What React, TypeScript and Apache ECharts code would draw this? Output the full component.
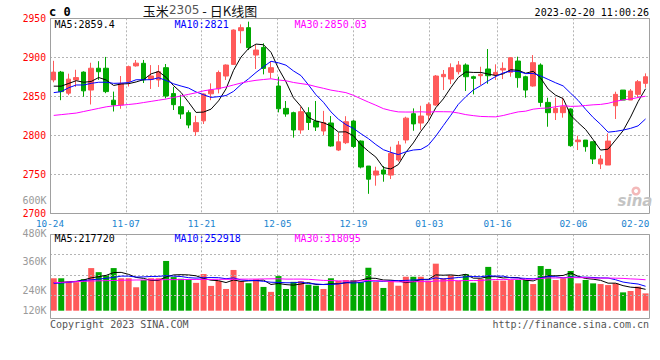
import React, { useEffect, useRef } from 'react';
import * as echarts from 'echarts';

const dates = [
  '10-24','10-25','10-26','10-27','10-28','10-31','11-01','11-02','11-03','11-04',
  '11-07','11-08','11-09','11-10','11-11','11-14','11-15','11-16','11-17','11-18',
  '11-21','11-22','11-23','11-24','11-25','11-28','11-29','11-30','12-01','12-02',
  '12-05','12-06','12-07','12-08','12-09','12-12','12-13','12-14','12-15','12-16',
  '12-19','12-20','12-21','12-22','12-23','12-26','12-27','12-28','12-29','12-30',
  '01-03','01-04','01-05','01-06','01-09','01-10','01-11','01-12','01-13',
  '01-16','01-17','01-18','01-19','01-20','01-30','01-31','02-01','02-02','02-03',
  '02-06','02-07','02-08','02-09','02-10','02-13','02-14','02-15','02-16','02-17','02-20',
];
const labelDates = ['10-24','11-07','11-21','12-05','12-19','01-03','01-16','02-06','02-20'];

const open = [2871,2881,2854,2871,2881,2858,2886,2886,2845,2839,
  2869,2889,2892.3,2871.8,2871,2886.7,2853.5,2836.7,2829,2804.7,
  2818.5,2853.2,2859.5,2876,2890.9,2934.1,2938,2902.9,2912.7,2880.7,
  2863.2,2834.5,2829,2806.8,2829,2818,2805.5,2815.8,2781.1,2790.5,
  2818.3,2792.6,2760.6,2749,2755.5,2749,2768.3,2794,2827.7,2815.7,
  2826,2838.8,2875.1,2872.1,2881.5,2890.1,2875.1,2876.4,2885,2877.3,
  2883.7,2880.7,2895.2,2875.1,2863.2,2890.1,2842.2,2829,2829,2833.7,
  2791.8,2793.9,2791.8,2763.2,2761.9,2837.9,2858,2845.2,2852.5,2866.6];
const close = [2881,2856,2872,2874,2857,2886,2881.5,2856,2839,2866.5,
  2888,2892.5,2871,2876,2881.5,2850.4,2839.3,2827.3,2813.2,2816.2,
  2853,2858,2880.5,2890.1,2935,2938,2912.3,2909.3,2885.8,2886.7,
  2834,2827.3,2806.8,2830.3,2816.4,2810.6,2816.4,2786.3,2791.6,2817.4,
  2785.6,2759.3,2743.7,2754.2,2750.3,2776.8,2787.5,2822,2814.6,2824.7,
  2839.7,2876,2878.1,2886.7,2890.1,2875.1,2873,2878.1,2876.4,2880.7,
  2885.8,2899.5,2873.9,2858,2893.1,2842.2,2829,2834.5,2836.7,2786.7,
  2793.9,2785.4,2769.6,2769.6,2792.6,2852.5,2845.2,2856.8,2868.7,2875.1];
const low = [2868,2845,2851.5,2862,2849.5,2839.5,2871,2854,2830.5,2834,
  2862.5,2888,2867,2859.4,2862,2847.4,2832.4,2821,2809,2799.3,
  2814.5,2845,2853.8,2870.9,2890.1,2917.9,2909.3,2885,2878.1,2873,
  2829.4,2823.8,2797,2802,2806.8,2805.5,2800.3,2785.4,2779.8,2788.8,
  2783.7,2757.6,2725,2735.4,2740.5,2743.9,2766.1,2789.6,2805.8,2807,
  2820,2837.9,2858,2865.7,2878.1,2856.8,2852.5,2864.4,2866,2871,
  2872.1,2875.1,2861,2848.2,2862.3,2836.7,2811,2819.6,2822.6,2785.4,
  2781.1,2779,2763.2,2756.7,2761.9,2820.9,2845.2,2845.2,2848.2,2861];
const high = [2895.5,2882.5,2879,2884,2882,2893,2895,2900.5,2856,2876,
  2889.3,2896.5,2896.6,2890,2890,2891.4,2862,2852,2832,2825,
  2853.8,2866.6,2883,2890.9,2935.8,2942.2,2945.7,2915.7,2917.9,2894.4,
  2875.1,2844,2830.3,2836.7,2836,2844,2831.3,2824.7,2803.5,2824.5,
  2819.4,2793.5,2760.6,2759.7,2760.6,2785.4,2792.6,2823.8,2834.5,2837.9,
  2842.2,2877.3,2883.7,2892.2,2895.2,2892.2,2876.4,2887.9,2910.6,2891,
  2893.5,2900,2900.8,2876.4,2902.9,2892.2,2848.2,2848.2,2848.2,2834.5,
  2799.5,2793.9,2791.8,2774.7,2802.5,2855.9,2858,2859.3,2870.9,2879.4];

const volume = [221000,221000,201000,198000,216000,281000,257000,239000,281000,221000,
  221000,168000,211000,221000,221000,323000,228000,218000,214000,194000,
  246000,176000,205000,158000,270000,204000,192000,215000,170000,141000,
  234000,158000,200000,204000,183000,177000,158000,221000,206000,211000,
  211000,198000,283000,199000,164000,205000,177000,230000,230000,230000,
  207000,307000,221000,240000,207000,246000,195000,217000,288000,207000,
  207000,211000,211000,211000,187000,293000,276000,211000,221000,264000,
  191000,211000,191000,187000,181000,191000,138000,146000,172000,132000];

// moving-average values before enough bars are visible
const ma5Lead = [2863, 2863, 2866.5, 2870];
const ma10Lead = [2854.7, 2856, 2861, 2864.5, 2864.5, 2866.6, 2868, 2868, 2866.6];
const ma30Lead = [2825.5, 2826.5, 2827.5, 2828.5, 2830.5, 2832.5, 2834.5, 2836.5, 2837.8, 2838.5,
  2839.5, 2840.5, 2842, 2843.5, 2845, 2846.5, 2848.5, 2850.5, 2852.5, 2854.5,
  2857, 2858.5, 2860, 2862, 2864.5, 2867, 2869, 2870.5, 2871.5];
const volMa5Lead = [195000, 197000, 200000, 203000];
const volMa10Lead = [191000, 193000, 197000, 202000, 207000, 212000, 216000, 221000, 226000];
const volMa30Lead = [195000, 197000, 199000, 201000, 203000, 205000, 206000, 207000, 208000, 209000,
  210000, 211000, 211000, 212000, 212000, 213000, 213000, 213000, 214000, 214000,
  214000, 214000, 215000, 215000, 215000, 216000, 216000, 216000, 217000];

const priceTicks = [2700, 2750, 2800, 2850, 2900, 2950];
const volTickLabels = ['600K', '480K', '360K', '240K', '120K'];
const volGridValues = [120000, 240000, 360000];

const titleName = '玉米';
const titleCode = '2305';
const titleRest = ' - 日K线图';
const codeText = 'c 0';
const timeText = '2023-02-20 11:00:26';
const priceMaTexts = ['MA5:2859.4', 'MA10:2821', 'MA30:2850.03'];
const volMaTexts = ['MA5:217720', 'MA10:252918', 'MA30:318095'];
const footLeft = 'Copyright 2023 SINA.COM';
const footRight = 'http://finance.sina.com.cn';

const movingAvg = (vals: number[], n: number, lead: number[]) =>
  vals.map((_, i) => {
    if (i < n - 1) return lead[i];
    let s = 0;
    for (let j = i - n + 1; j <= i; j++) s += vals[j];
    return +(s / n).toFixed(2);
  });

const UP = '#ff5a5a';
const DOWN = '#00a800';
const GRIDC = '#b4b4b4';
const MONO = '"DejaVu Sans Mono", "Liberation Mono", monospace';

export default function App() {
  const ref = useRef<HTMLDivElement>(null);
  useEffect(() => {
    if (!ref.current) return;
    const chart = echarts.init(ref.current, undefined, { renderer: 'svg' });

    const candles = dates.map((_, i) => [open[i], close[i], low[i], high[i]]);
    const ma5 = movingAvg(close, 5, ma5Lead);
    const ma10 = movingAvg(close, 10, ma10Lead);
    const ma30 = movingAvg(close, 30, ma30Lead);
    const vma5 = movingAvg(volume, 5, volMa5Lead);
    const vma10 = movingAvg(volume, 10, volMa10Lead);
    const vma30 = movingAvg(volume, 30, volMa30Lead);
    const volData = volume.map((v, i) => ({
      value: v,
      itemStyle: { color: close[i] >= open[i] ? UP : DOWN },
    }));

    const showDate = (_i: number, v: string) => labelDates.includes(v);
    const maColors = ['#000000', '#0000ff', '#ff00ff'];
    const maX = [54.5, 174.5, 294.5];
    const volLabelY = [200, 233.5, 261, 290, 310.5];

    const txt = (text: string, x: number, y: number, fill: string, font: string, align = 'left', lh = 10) => ({
      type: 'text', x, y, silent: true, z: 100,
      style: { text, fill, font, textAlign: align, textVerticalAlign: 'middle', lineHeight: lh },
    });

    const graphic: any[] = [
      {
        type: 'rect', silent: true, z: 90,
        shape: { x: 50.5, y: 18.5, width: 599, height: 195 },
        style: { fill: 'none', stroke: '#a0a0a0', lineWidth: 1 },
      },
      {
        type: 'rect', silent: true, z: 90,
        shape: { x: 50.5, y: 234.5, width: 599, height: 84 },
        style: { fill: 'none', stroke: '#a0a0a0', lineWidth: 1 },
      },
      txt(codeText, 49, 12, '#000', 'bold 12px ' + MONO, 'left', 12),
      {
        type: 'text', x: 200, y: 10, silent: true, z: 100,
        style: {
          text: `{a|${titleName}}{b|${titleCode}}{a|${titleRest}}`,
          textAlign: 'center', textVerticalAlign: 'middle',
          rich: {
            a: { fontFamily: '"Noto Sans CJK SC", sans-serif', fontSize: 13, fill: '#111', color: '#111' },
            b: { fontFamily: '"DejaVu Sans", sans-serif', fontSize: 12, fill: '#555', color: '#555' },
          },
        },
      },
      txt(timeText, 649, 12, '#000', '10px ' + MONO, 'right'),
      ...priceMaTexts.map((t, i) => txt(t, maX[i], 24, maColors[i], '10px ' + MONO)),
      ...volMaTexts.map((t, i) => txt(t, maX[i], 238.5, maColors[i], '10px ' + MONO)),
      ...volTickLabels.map((t, i) => txt(t, 46.5, volLabelY[i], '#9a9a9a', '10px ' + MONO, 'right')),
      txt(footLeft, 50, 324, '#555', '10px ' + MONO),
      txt(footRight, 649, 324, '#555', '10px ' + MONO, 'right'),
      {
        type: 'ring', silent: true, z: 95,
        shape: { cx: 636, cy: 191, r: 4.5, r0: 2 },
        style: { fill: '#f3b9b9' },
      },
      txt('sina', 635, 201, '#c4c4c4', 'italic bold 15px "DejaVu Sans", sans-serif', 'center', 15),
    ];

    const lineS = (data: number[], color: string, xi: number, yi: number) => ({
      type: 'line', data, xAxisIndex: xi, yAxisIndex: yi, showSymbol: false, symbol: 'none',
      silent: true, smooth: false, lineStyle: { color, width: 1 }, z: 5,
    });

    const option: any = {
      animation: false,
      backgroundColor: '#ffffff',
      grid: [
        { left: 50, top: 18.3, width: 599.3, height: 195 },
        { left: 50, top: 234.3, width: 599.3, height: 76.4 },
      ],
      xAxis: [
        { type: 'category', gridIndex: 0, data: dates, boundaryGap: true, show: false, position: 'top' },
        {
          type: 'category', gridIndex: 0, data: dates, boundaryGap: false, position: 'bottom',
          axisLine: { show: false }, axisTick: { show: false },
          axisLabel: {
            interval: showDate, color: '#1a84cf', fontFamily: MONO, fontSize: 9.3, margin: 5.5,
            lineHeight: 9.3, alignMaxLabel: 'right',
          },
          splitLine: { show: true, interval: showDate, lineStyle: { color: GRIDC, type: [2, 2], width: 1 } },
        },
        { type: 'category', gridIndex: 1, data: dates, boundaryGap: true, show: false, position: 'top' },
        {
          type: 'category', gridIndex: 1, data: dates, boundaryGap: false, position: 'bottom',
          axisLine: { show: false }, axisTick: { show: false }, axisLabel: { show: false },
          splitLine: { show: true, interval: showDate, lineStyle: { color: GRIDC, type: [2, 2], width: 1 } },
        },
      ],
      yAxis: [
        {
          type: 'value', gridIndex: 0, min: priceTicks[0], max: priceTicks[priceTicks.length - 1], interval: 50,
          axisLine: { show: false }, axisTick: { show: false },
          axisLabel: {
            color: '#ff0000', fontFamily: MONO, fontSize: 9.7, margin: 4, lineHeight: 9.7,
            formatter: (v: number) => String(v),
          },
          splitLine: { show: true, lineStyle: { color: GRIDC, type: [2, 2], width: 1 } },
        },
        { type: 'value', gridIndex: 1, min: 30000, max: 480000, show: false },
      ],
      series: [
        {
          type: 'candlestick', xAxisIndex: 0, yAxisIndex: 0, data: candles, barWidth: 5, silent: true,
          itemStyle: { color: UP, color0: DOWN, borderColor: UP, borderColor0: DOWN, borderWidth: 1 },
          z: 3,
        },
        lineS(ma5, '#000000', 0, 0),
        lineS(ma10, '#0000ff', 0, 0),
        lineS(ma30, '#ff00ff', 0, 0),
        {
          type: 'bar', xAxisIndex: 2, yAxisIndex: 1, data: volData, barWidth: 6, silent: true, z: 3,
          markLine: {
            silent: true, symbol: 'none', label: { show: false },
            lineStyle: { color: GRIDC, type: [2, 2], width: 1 },
            data: volGridValues.map((v) => ({ yAxis: v })),
          },
        },
        lineS(vma5, '#000000', 2, 1),
        lineS(vma10, '#0000ff', 2, 1),
        lineS(vma30, '#ff00ff', 2, 1),
      ],
      graphic,
    };
    chart.setOption(option);
    return () => chart.dispose();
  }, []);
  return (
    <div
      ref={ref}
      style={{ position: 'fixed', left: 0, top: 0, width: 660, height: 360, background: '#fff' }}
    />
  );
}
